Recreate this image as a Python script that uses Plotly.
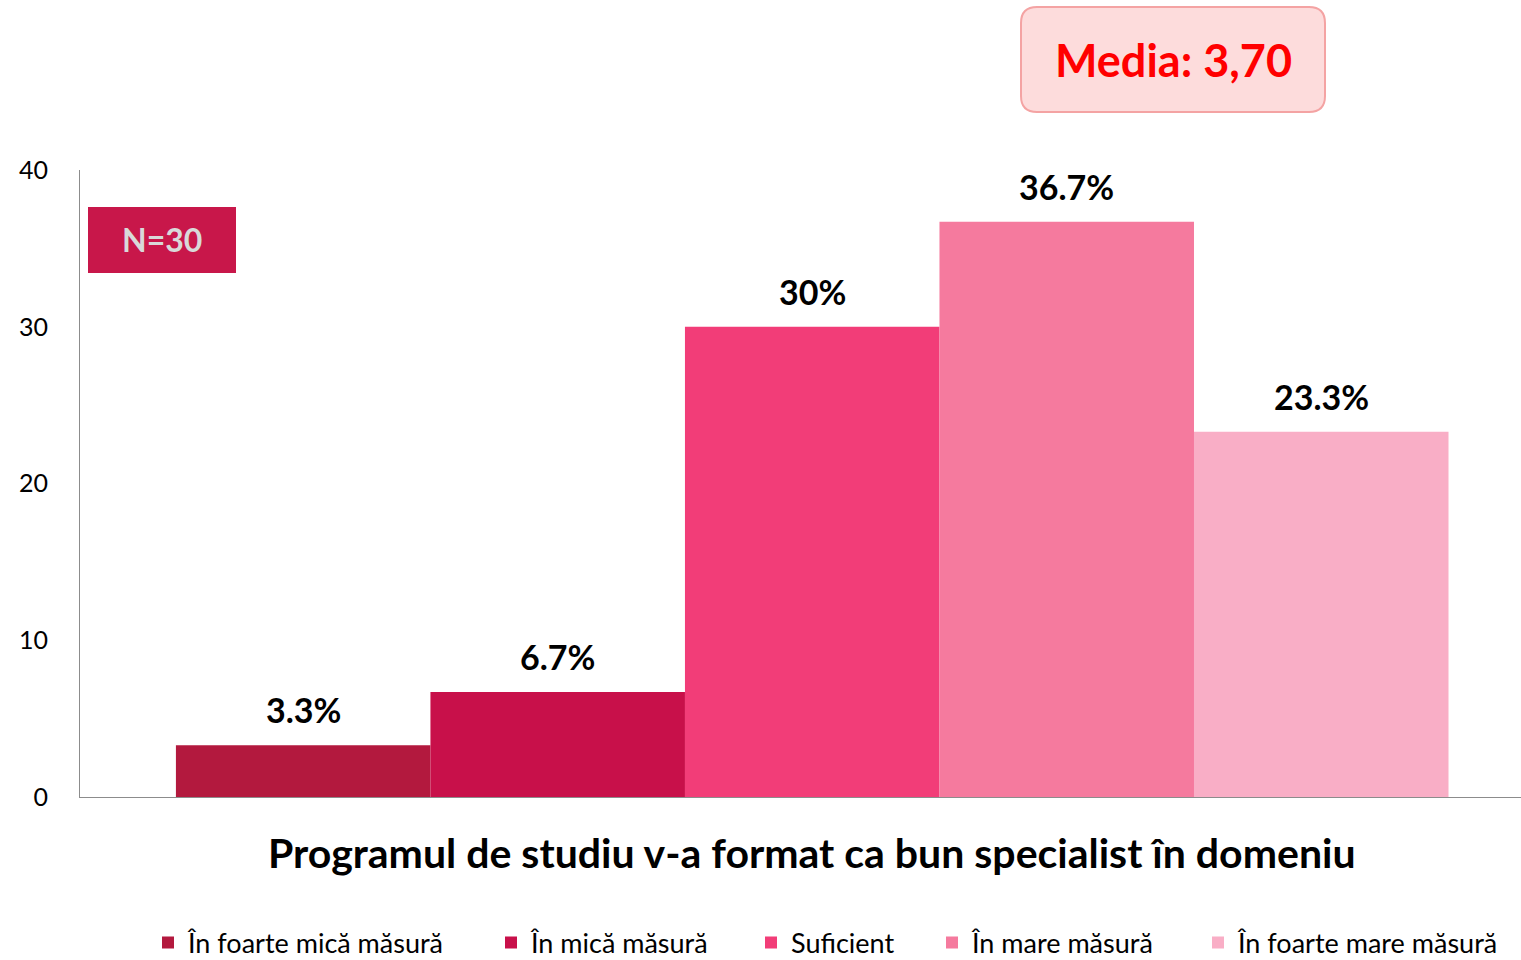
import plotly.graph_objects as go

# survey answers, one bar per answer level
categories = ["Programul de studiu v-a format ca bun specialist în domeniu"]
series_names = ["În foarte mică măsură", "În mică măsură", "Suficient",
                "În mare măsură", "În foarte mare măsură"]
series_values = [3.3, 6.7, 30, 36.7, 23.3]
value_labels = ["3.3%", "6.7%", "30%", "36.7%", "23.3%"]
colors = ["#B3193E", "#C8104A", "#F23D78", "#F57A9E", "#F9AEC6"]
y_ticks = [0, 10, 20, 30, 40]
n_label = "N=30"
media_label = "Media: 3,70"

FONT = "Lato, 'Noto Sans', sans-serif"

# bars sit side by side around the single category, no gaps between them
group_width = 0.869
bar_w = group_width / len(series_values)

# left edge (px) of each legend entry along the bottom row
legend_left = [165, 508, 768, 949, 1215]

fig = go.Figure()
for i, (name, val, col) in enumerate(zip(series_names, series_values, colors)):
    lg = "legend" if i == 0 else f"legend{i + 1}"
    fig.add_trace(go.Bar(
        x=[0], y=[val], name=name, width=[bar_w], offset=-group_width / 2 + i * bar_w,
        marker=dict(color=col, line=dict(width=0)), legend=lg,
    ))
    fig.add_annotation(x=-group_width / 2 + (i + 0.5) * bar_w, y=val, xref="x", yref="y",
                       text=value_labels[i], showarrow=False, yanchor="bottom",
                       xanchor="center", yshift=13,
                       font=dict(size=34, color="black", family=FONT, weight="bold"))
    fig.update_layout({lg: dict(orientation="h", xref="container", yref="container",
                                xanchor="left", x=(legend_left[i] - 17) / 1521,
                                yanchor="middle", y=1 - 943 / 960,
                                font=dict(size=27, family=FONT), itemwidth=30,
                                bgcolor="rgba(0,0,0,0)")})


# pixel helpers for the decorative boxes (plot area is 80..1521 x 170..797)
def px(x):
    return (x - 80) / 1441


def py(y):
    return (797 - y) / 627


def rounded_box(x0, y0, x1, y1, r):
    rx, ry = r / 1441, r / 627
    a, b, c, d = px(x0), py(y1), px(x1), py(y0)
    return (f"M {a+rx},{b} L {c-rx},{b} Q {c},{b} {c},{b+ry} "
            f"L {c},{d-ry} Q {c},{d} {c-rx},{d} L {a+rx},{d} "
            f"Q {a},{d} {a},{d-ry} L {a},{b+ry} Q {a},{b} {a+rx},{b} Z")


fig.add_shape(type="path", xref="paper", yref="paper",
              path=rounded_box(1021, 7, 1325, 112, 16),
              fillcolor="#FDDCDC", line=dict(color="#F4A3A3", width=2), layer="above")
fig.add_annotation(xref="paper", yref="paper", x=px(1173), y=py(60),
                   xanchor="center", yanchor="middle",
                   text=media_label, showarrow=False,
                   font=dict(size=45, color="#FF0000", family=FONT, weight="bold"))

fig.add_shape(type="rect", xref="paper", yref="paper",
              x0=px(88), x1=px(236), y0=py(273), y1=py(207),
              fillcolor="#C8174A", line=dict(width=0))
fig.add_annotation(xref="paper", yref="paper", x=px(162), y=py(240),
                   xanchor="center", yanchor="middle",
                   text=n_label, showarrow=False,
                   font=dict(size=32, color="#D9D9D9", family=FONT, weight="bold"))

fig.add_annotation(xref="x", yref="paper", x=0, y=py(852),
                   xanchor="center", yanchor="middle",
                   text=categories[0], showarrow=False,
                   font=dict(size=41, color="black", family=FONT, weight="bold"))

fig.update_layout(
    width=1521, height=960,
    margin=dict(l=80, r=0, t=170, b=163, autoexpand=False),
    paper_bgcolor="white", plot_bgcolor="white",
    barmode="overlay",
    font=dict(family=FONT, color="black"),
    showlegend=True,
    xaxis=dict(range=[-0.5, 0.484], showticklabels=False, showgrid=False,
               zeroline=False, showline=True, linecolor="#8C8C8C", linewidth=1,
               ticks="", automargin=False),
    yaxis=dict(range=[0, 40], tickvals=y_ticks, showgrid=False, zeroline=False,
               showline=True, linecolor="#8C8C8C", linewidth=1, ticks="",
               tickfont=dict(size=25, color="black"), ticklabelstandoff=26,
               automargin=False),
)

# the page body has a default 8px margin; drop it so the figure fills the window
fig.write_html("out.html", config={"displayModeBar": False},
               post_script="document.body.style.margin='0';")
